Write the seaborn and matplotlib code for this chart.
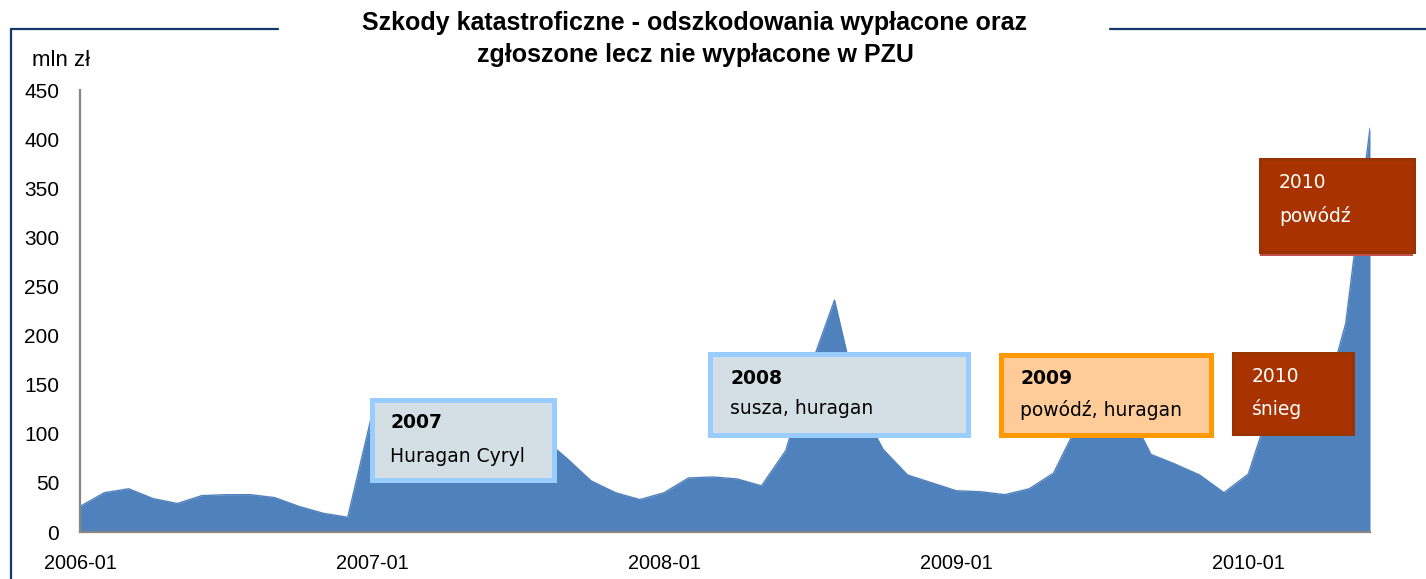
import matplotlib
matplotlib.use("Agg")
import matplotlib.pyplot as plt
import seaborn as sns
import pandas as pd
from matplotlib.patches import Rectangle
from matplotlib.lines import Line2D

# ---- data ----
months = [f"{y}-{m:02d}" for y in range(2006, 2011) for m in range(1, 13)][:54]
values = [26, 40, 44, 34, 29, 37, 38, 38, 35, 26, 19, 15,
          120, 112, 108, 104, 106, 102, 100, 96, 75, 52, 40, 33,
          40, 55, 56, 54, 47, 83, 167, 236, 130, 84, 58, 50,
          42, 41, 38, 44, 60, 110, 125, 128, 79, 69, 58, 40,
          59, 135, 125, 122, 212, 411]
year_labels = ["2006-01", "2007-01", "2008-01", "2009-01", "2010-01"]
yticks = [0, 50, 100, 150, 200, 250, 300, 350, 400, 450]
title = "Szkody katastroficzne - odszkodowania wypłacone oraz\nzgłoszone lecz nie wypłacone w PZU"
ylabel = "mln zł"
notes = [("2007", "Huragan Cyryl"), ("2008", "susza, huragan"), ("2009", "powódź, huragan"),
         ("2010", "śnieg"), ("2010", "powódź")]

df = pd.DataFrame({"idx": range(len(values)), "month": months, "value": values})

sns.set_theme(style="white")
plt.rcParams["font.family"] = ["Liberation Sans", "DejaVu Sans"]

W, H = 1426, 579
fig = plt.figure(figsize=(W / 100, H / 100), dpi=100)

def fx(x):
    return x / W

def fy(y):
    return 1 - y / H

ax = fig.add_axes([fx(80), fy(532), fx(1370) - fx(80), fy(90) - fy(532)])

blue = "#4F81BD"
ax.fill_between(df["idx"], 0, df["value"], color=blue, linewidth=0, zorder=2)
sns.lineplot(data=df, x="idx", y="value", ax=ax, color=blue, linewidth=1, zorder=3)

ax.set_xlim(0, len(values) - 1)
ax.set_ylim(0, 450)
ax.set_yticks(yticks)
ax.set_yticklabels([str(v) for v in yticks])
xt = list(range(0, len(values), 3))
ax.set_xticks(xt)
ax.set_xticklabels([months[i] if months[i] in year_labels else "" for i in xt])
ax.set_xlabel("")
ax.set_ylabel("")

for s in ["top", "right"]:
    ax.spines[s].set_visible(False)
for s in ["left", "bottom"]:
    ax.spines[s].set_color("#868686")
    ax.spines[s].set_linewidth(1.6)
ax.tick_params(axis="both", which="major", direction="out", length=4,
               width=1.2, color="#868686", labelcolor="black")
ax.tick_params(axis="x", pad=12, labelsize=14.3)
ax.tick_params(axis="y", pad=11, labelsize=15)
ax.grid(False)

# title and unit label
fig.text(fx(695), fy(39), title, ha="center", va="center", fontsize=18,
         fontweight="bold", linespacing=1.42, color="black")
fig.text(fx(32), fy(61), ylabel, ha="left", va="center", fontsize=16, color="black")

# frame lines
navy = "#13386B"
fig.add_artist(Line2D([fx(11), fx(11)], [fy(29), fy(579)], color=navy, lw=1.6))
fig.add_artist(Line2D([fx(11), fx(278)], [fy(29), fy(29)], color=navy, lw=1.6))
fig.add_artist(Line2D([fx(1110), fx(1426)], [fy(29), fy(29)], color=navy, lw=1.6))

# annotation boxes: (x0, y0, x1, y1, face, edge, text color, bold year, tx, ty1, ty2)
boxes = [
    (369, 397, 556, 482, "#D3DFE5", "#99CCFF", "black", True, 390, 422, 456),
    (707, 351, 970, 437, "#D3DFE5", "#99CCFF", "black", True, 730, 378, 409),
    (998, 352, 1213, 437, "#FFCC99", "#FF9900", "black", True, 1020, 379, 410),
    (1231, 351, 1354, 435, "#A93300", "#993300", "white", False, 1252, 377, 409),
    (1258, 157, 1415, 253, "#A93300", "#993300", "white", False, 1279, 183, 216),
]
for (x0, y0, x1, y1, fc, ec, tc, bold, tx, ty1, ty2), (yr, txt) in zip(boxes, notes):
    lw_px = 5 if bold else 3
    if not bold and y0 < 200:
        fig.add_artist(Rectangle((fx(x0 + 2), fy(y1 + 3)), fx(x1 - x0 - 4), fy(0) - fy(5),
                                 transform=fig.transFigure, facecolor="#C0504D",
                                 edgecolor="none", zorder=9))
    off = lw_px / 2
    fig.add_artist(Rectangle((fx(x0 + off), fy(y1 - off)), fx(x1 - x0 - 2 * off),
                             fy(y0 + off) - fy(y1 - off), transform=fig.transFigure,
                             facecolor=fc, edgecolor=ec, linewidth=lw_px * 0.72, zorder=10))
    fig.text(fx(tx), fy(ty1), yr, ha="left", va="center", fontsize=13.5,
             fontweight="bold" if bold else "normal", color=tc, family="DejaVu Sans", zorder=11)
    fig.text(fx(tx), fy(ty2), txt, ha="left", va="center", fontsize=13.5,
             color=tc, family="DejaVu Sans", zorder=11)

fig.savefig("out.png", dpi=100)
